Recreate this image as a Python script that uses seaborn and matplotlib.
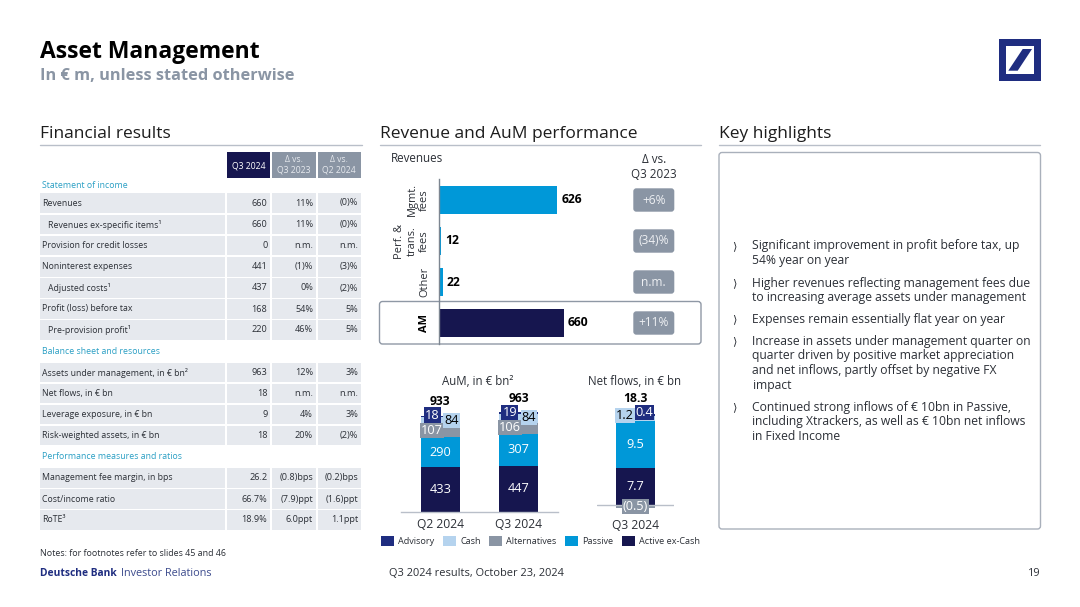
import matplotlib
matplotlib.use('Agg')
import matplotlib.pyplot as plt
from matplotlib.patches import Rectangle, FancyBboxPatch, Polygon
import seaborn as sns
import pandas as pd

sns.set_theme(style="white")
plt.rcParams['font.family'] = ['Open Sans', 'DejaVu Sans']
plt.rcParams['axes.facecolor'] = 'none'

W, H = 1080, 607
NAVY = '#16164f'
BLUE = '#0098d8'
GREY = '#8a95a4'
LIGHT = '#b5d3ee'
ROYAL = '#1f2d80'
ROW = '#e6e9ee'
RULE = '#b9bfc9'
INK = '#2b2f36'
TEAL = '#2a9fc4'

fig = plt.figure(figsize=(W / 100, H / 100), dpi=100, facecolor='white')

# fond en coordonnees pixels
bg = fig.add_axes([0, 0, 1, 1])
bg.set_xlim(0, W)
bg.set_ylim(H, 0)
bg.axis('off')


def txt(x, y, s, size=6.3, color=INK, ha='left', weight='normal', **kw):
    return bg.text(x, y, s, fontsize=size, color=color, ha=ha, va='center', fontweight=weight, **kw)


def rect(x0, y0, x1, y1, color):
    bg.add_patch(Rectangle((x0, y0), x1 - x0, y1 - y0, fc=color, ec='none'))


def rounded(x0, y0, x1, y1, fc='white', ec='none', lw=1, r=3):
    bg.add_patch(FancyBboxPatch((x0 + r, y0 + r), x1 - x0 - 2 * r, y1 - y0 - 2 * r,
                                boxstyle=f'round,pad={r},rounding_size={r}', fc=fc, ec=ec, lw=lw))


def px_axes(x0, y_top, x1, y_bottom):
    return fig.add_axes([x0 / W, 1 - y_bottom / H, (x1 - x0) / W, (y_bottom - y_top) / H])


# En-tete
txt(40, 52.5, 'Asset Management', size=16.5, color='black', weight='bold')
txt(40, 75.5, 'In € m, unless stated otherwise', size=11.8, color=GREY, weight='bold')

# Logo
rect(999, 39, 1041, 81, ROYAL)
rect(1005.7, 45.7, 1034.3, 74.3, 'white')
bg.add_patch(Polygon([(1022.7, 49), (1032, 49), (1017.7, 70.7), (1008.3, 70.7)], fc=ROYAL, ec='none'))

# Titres de sections
for x0, x1, title in [(40, 362, 'Financial results'), (380, 701, 'Revenue and AuM performance'),
                      (719, 1040, 'Key highlights')]:
    txt(x0, 134, title, size=12.5, color='#1c1c1c')
    bg.plot([x0, x1], [144.5, 144.5], color=RULE, lw=1)

# Tableau
COLS = [(226.7, 270.3), (272, 316), (317.5, 361)]
rect(*[COLS[0][0], 152.3, COLS[0][1], 177.7], NAVY)
rect(*[COLS[1][0], 152.3, COLS[1][1], 177.7], GREY)
rect(*[COLS[2][0], 152.3, COLS[2][1], 177.7], GREY)
txt(248.5, 165.5, 'Q3 2024', size=6.2, color='white', ha='center')
txt(294, 159.5, 'Δ vs.', size=6.2, color='#e6e9ee', ha='center')
txt(294, 170.5, 'Q3 2023', size=6.2, color='#e6e9ee', ha='center')
txt(339, 159.5, 'Δ vs.', size=6.2, color='#e6e9ee', ha='center')
txt(339, 170.5, 'Q2 2024', size=6.2, color='#e6e9ee', ha='center')

sections = [
    (186, 'Statement of income'),
    (351.5, 'Balance sheet and resources'),
    (456.5, 'Performance measures and ratios'),
]
for y, s in sections:
    txt(42, y, s, color=TEAL)

rows = [
    (203, 'Revenues', 0, '660', '11%', '(0)%'),
    (224.5, 'Revenues ex-specific items¹', 1, '660', '11%', '(0)%'),
    (245.5, 'Provision for credit losses', 0, '0', 'n.m.', 'n.m.'),
    (266.8, 'Noninterest expenses', 0, '441', '(1)%', '(3)%'),
    (288, 'Adjusted costs¹', 1, '437', '0%', '(2)%'),
    (309, 'Profit (loss) before tax', 0, '168', '54%', '5%'),
    (330, 'Pre-provision profit¹', 1, '220', '46%', '5%'),
    (372.5, 'Assets under management, in € bn²', 0, '963', '12%', '3%'),
    (393.5, 'Net flows, in € bn', 0, '18', 'n.m.', 'n.m.'),
    (414.5, 'Leverage exposure, in € bn', 0, '9', '4%', '3%'),
    (435.5, 'Risk-weighted assets, in € bn', 0, '18', '20%', '(2)%'),
    (477.8, 'Management fee margin, in bps', 0, '26.2', '(0.8)bps', '(0.2)bps'),
    (499, 'Cost/income ratio', 0, '66.7%', '(7.9)ppt', '(1.6)ppt'),
    (520, 'RoTE³', 0, '18.9%', '6.0ppt', '1.1ppt'),
]
for y, label, indent, *vals in rows:
    rect(40, y - 9.8, 225, y + 9.8, ROW)
    txt(42.5 + 6 * indent, y, label)
    for (c0, c1), v in zip(COLS, vals):
        rect(c0, y - 9.8, c1, y + 9.8, ROW)
        txt(c1 - 3, y, v, size=6.6, ha='right')

txt(40, 554, 'Notes: for footnotes refer to slides 45 and 46', size=6.4)
txt(40, 573.5, 'Deutsche Bank', size=7.4, color=ROYAL, weight='bold')
txt(121, 573.5, 'Investor Relations', size=7.8, color='#3b4a8c')
txt(389, 573.5, 'Q3 2024 results, October 23, 2024', size=7.95)
txt(1040.5, 573.5, '19', size=7.8, ha='right')

# Revenus
txt(391, 158.5, 'Revenues', size=8.4)
txt(654, 159.5, 'Δ vs.', size=8.4, ha='center')
txt(654, 174.5, 'Q3 2023', size=8.4, ha='center')
rounded(379.5, 301.5, 701, 344, ec='#8f98a5', lw=1)

revenue = pd.DataFrame({
    'label': ['Mgmt.\nfees', 'Perf. &\ntrans.\nfees', 'Other', 'AM'],
    'value': [626, 12, 22, 660],
    'delta': ['+6%', '(34)%', 'n.m.', '+11%'],
})
ax = px_axes(438.5, 179.5, 700, 343.5)
sns.barplot(data=revenue, y='label', x='value', hue='label', legend=False, orient='y',
            palette=[BLUE, BLUE, BLUE, NAVY], saturation=1, width=0.683, linewidth=0, ax=ax)
ax.set_xlim(0, 261.5 / 0.1896)
ax.set_xlabel('')
ax.set_ylabel('')
ax.set_xticks([])
sns.despine(ax=ax, left=False, bottom=True)
ax.spines['left'].set_color('#7d8691')
ax.spines['left'].set_linewidth(1)
ax.tick_params(axis='y', length=0, pad=6)
ax.set_yticks(range(4))
ax.set_yticklabels(revenue['label'], rotation=90, va='center', ha='right', multialignment='center',
                   fontsize=7.9, color=INK, linespacing=1.2)
ax.get_yticklabels()[3].set_fontweight('bold')
ax.get_yticklabels()[3].set_color('black')
for c in ax.containers:
    ax.bar_label(c, padding=3, fontsize=8.7, fontweight='bold', color='black')
for i, d in enumerate(revenue['delta']):
    y = 200 + 41 * i
    rounded(633.3, y - 11.7, 674.3, y + 11.7, fc=GREY)
    txt(653.8, y, d, size=8.6, color='#eef0f3', ha='center')

# AuM
layers = ['Active ex-Cash', 'Passive', 'Alternatives', 'Cash', 'Advisory']
colors = {'Active ex-Cash': NAVY, 'Passive': BLUE, 'Alternatives': GREY, 'Cash': LIGHT, 'Advisory': ROYAL}
aum = pd.DataFrame({
    'quarter': ['Q2 2024', 'Q3 2024'],
    'Active ex-Cash': [433, 447],
    'Passive': [290, 307],
    'Alternatives': [107, 106],
    'Cash': [84, 84],
    'Advisory': [18, 19],
})
AUM_PX = 0.1032
ax2 = px_axes(401, 395, 558, 511.7)
bottom = [0, 0]
for name in layers:
    sns.barplot(data=aum, x='quarter', y=name, color=colors[name], saturation=1, width=0.5,
                bottom=bottom, linewidth=0, ax=ax2)
    bottom = [b + v for b, v in zip(bottom, aum[name])]
ax2.set_ylim(0, 116.7 / AUM_PX)
ax2.set_xlim(-0.5, 1.5)

flows = pd.DataFrame({
    'quarter': ['Q3 2024'],
    'Active ex-Cash': [7.7],
    'Passive': [9.5],
    'Cash': [1.2],
    'Advisory': [0.4],
    'Alternatives': [-0.5],
})
NET_PX = 4.88
ax3 = px_axes(596.7, 395, 674.3, 512)
bottom = [0]
for name in ['Active ex-Cash', 'Passive', 'Cash', 'Advisory']:
    sns.barplot(data=flows, x='quarter', y=name, color=colors[name], saturation=1, width=0.5,
                bottom=bottom, linewidth=0, ax=ax3)
    bottom = [bottom[0] + flows[name][0]]
sns.barplot(data=flows, x='quarter', y='Alternatives', color=GREY, saturation=1, width=0.5, linewidth=0, ax=ax3)
ax3.set_ylim(-6.7 / NET_PX, 110.3 / NET_PX)
ax3.set_xlim(-0.5, 0.5)
ax3.axhline(0, color=RULE, lw=1)

for a, pad in [(ax2, 4.5), (ax3, 5)]:
    a.set_xlabel('')
    a.set_ylabel('')
    a.set_yticks([])
    sns.despine(ax=a, left=True, bottom=False if a is ax2 else True)
    a.spines['bottom'].set_color(RULE)
    a.spines['bottom'].set_linewidth(1)
    a.tick_params(axis='x', length=0, pad=pad, labelsize=8.7, labelcolor=INK)


def vlabel(a, x, y, s, color='white', box=None, size=9.2, weight='normal'):
    bbox = dict(boxstyle='square,pad=0.08', fc=box, ec='none') if box else None
    a.text(x, y, s, ha='center', va='center', fontsize=size, color=color, fontweight=weight, bbox=bbox)


vlabel(ax2, 0, 216, '433')
vlabel(ax2, 0, 578, '290')
vlabel(ax2, -0.11, 785, '107', box=GREY)
vlabel(ax2, 0.14, 882, '84', color='black', box=LIGHT)
vlabel(ax2, -0.1, 937, '18', box=ROYAL)
vlabel(ax2, 0, 1066, '933', color='black', weight='bold', size=8.7)
vlabel(ax2, 1, 223, '447')
vlabel(ax2, 1, 600, '307')
vlabel(ax2, 0.885, 818, '106', box=GREY)
vlabel(ax2, 1.13, 915, '84', color='black', box=LIGHT)
vlabel(ax2, 0.885, 963, '19', box=ROYAL)
vlabel(ax2, 1, 1099, '963', color='black', weight='bold', size=8.7)

vlabel(ax3, 0, 3.85, '7.7')
vlabel(ax3, 0, 12.45, '9.5')
vlabel(ax3, -0.14, 18.36, '1.2', color='black', box=LIGHT)
vlabel(ax3, 0.115, 19.06, '0.4', box=ROYAL)
vlabel(ax3, 0, -0.29, '(0.5)', box=GREY)
vlabel(ax3, 0, 21.9, '18.3', color='black', weight='bold', size=8.7)

txt(478, 381.5, 'AuM, in € bn²', size=8.3, ha='center')
txt(635, 381.5, 'Net flows, in € bn', size=8.3, ha='center')

# Legende
for x, name in [(381, 'Advisory'), (443.3, 'Cash'), (489, 'Alternatives'), (565, 'Passive'), (621.7, 'Active ex-Cash')]:
    rect(x, 536, x + 13, 546, colors[name])
    txt(x + 17, 541, name, size=6.6)

# Points cles
rounded(719, 152.5, 1040.5, 529, ec='#a9b0bb', lw=1)
highlights = [
    (246, ['Significant improvement in profit before tax, up', '54% year on year']),
    (283, ['Higher revenues reflecting management fees due', 'to increasing average assets under management']),
    (319, ['Expenses remain essentially flat year on year']),
    (341, ['Increase in assets under management quarter on', 'quarter driven by positive market appreciation',
           'and net inflows, partly offset by negative FX', 'impact']),
    (407, ['Continued strong inflows of € 10bn in Passive,', 'including Xtrackers, as well as € 10bn net inflows',
           'in Fixed Income']),
]
for y, lines in highlights:
    txt(734, y, '⟩', size=8.2, ha='center', family='DejaVu Sans')
    for i, line in enumerate(lines):
        txt(752.5, y + i * 14.9, line, size=8.7)

fig.savefig('out.png', dpi=100)
